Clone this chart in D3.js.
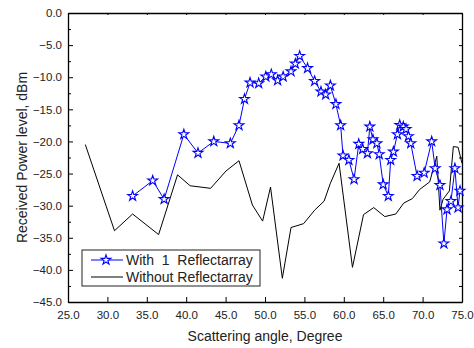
<!DOCTYPE html>
<html lang="en">
<head>
<meta charset="UTF-8">
<title>Received power vs scattering angle</title>
<script src="https://d3js.org/d3.v7.min.js"></script>
<style>
  body { margin: 0; background: white; }
  svg { font-family: "Liberation Sans", Arial, sans-serif; }
  .axis path, .axis line { stroke: black; }
  .axis text { font-size: 11.5px; fill: #222; }
  .title { font-size: 14px; fill: #222; }
</style>
</head>
<body>
<svg></svg>
<script>
const [width, height] = [474, 348]
const margin = {left: 68, right: 12, top: 13, bottom: 46}

// series
const withX = [33.2, 35.75, 37.2, 39.7, 41.5, 43.5, 45.6, 46.7, 47.4, 48.1, 49.2, 50.1, 50.8, 51.6, 52.3, 53.3,
  53.85, 54.4, 55.4, 56.3, 57.1, 57.7, 58.3, 59.0, 59.6, 59.9, 60.65, 61.3, 61.9, 62.4, 63.0, 63.3, 63.7, 64.2,
  64.5, 65.0, 65.65, 65.95, 66.3, 66.8, 67.1, 67.55, 67.9, 68.2, 68.5, 69.3, 70.2, 71.15, 71.6, 72.2, 72.7,
  73.1, 73.6, 74.1, 74.5, 74.75]
const withY = [-28.5, -26.1, -29.0, -18.9, -21.8, -20.0, -20.3, -17.5, -13.4, -10.85, -10.95, -9.9, -9.55, -10.5,
  -9.9, -9.1, -7.9, -6.7, -8.6, -10.6, -12.25, -12.7, -11.3, -14.2, -17.5, -22.2, -22.9, -25.9, -20.4, -21.2,
  -21.85, -17.7, -19.7, -20.3, -22.0, -26.7, -28.5, -22.9, -21.6, -18.9, -17.45, -17.7, -18.1, -19.2, -20.3,
  -25.4, -24.9, -20.0, -24.2, -26.8, -35.9, -30.6, -29.3, -24.2, -30.3, -27.7]
const withoutX = [27.2, 30.9, 33.2, 36.5, 38.9, 40.5, 43.1, 45.05, 46.7, 48.4, 49.7, 50.7, 52.2, 53.3, 54.9, 56.3,
  57.5, 58.3, 59.4, 61.1, 62.5, 63.8, 65.2, 66.6, 67.6, 68.7, 69.6, 70.9, 71.8, 72.2, 72.6, 73.4, 73.9, 74.5, 75.0]
const withoutY = [-20.5, -33.9, -31.3, -34.5, -25.2, -26.9, -27.3, -24.6, -23.0, -29.9, -32.4, -27.1, -41.3, -33.4,
  -32.8, -30.7, -29.3, -26.5, -23.4, -39.6, -31.4, -30.3, -31.7, -31.3, -29.6, -28.9, -27.5, -26.3, -22.3, -30.7,
  -29.0, -27.7, -20.8, -20.9, -23.4]

const xTicks = [25, 30, 35, 40, 45, 50, 55, 60, 65, 70, 75]
const yTicks = [0, -5, -10, -15, -20, -25, -30, -35, -40, -45]
const yMinor = d3.range(-2.5, -45, -5)
const legendNames = ['With  1  Reflectarray', 'Without Reflectarray']

const svg = d3.select('svg').attr('width', width).attr('height', height)
const x = d3.scaleLinear().domain([25, 75]).range([margin.left, width - margin.right])
const y = d3.scaleLinear().domain([-45, 0]).range([height - margin.bottom, margin.top])
const fmt = d3.format('.1f')

// axes, ticks pointing inward
svg.append('g').attr('class', 'axis')
    .attr('transform', `translate(0,${y(-45)})`)
    .call(d3.axisBottom(x).tickValues(xTicks).tickFormat(fmt).tickSize(-5).tickSizeOuter(0).tickPadding(9))
svg.append('g').attr('class', 'axis')
    .attr('transform', `translate(${x(25)},0)`)
    .call(d3.axisLeft(y).tickValues(yTicks).tickFormat(fmt).tickSize(-5).tickSizeOuter(0).tickPadding(6))
svg.append('g').attr('class', 'axis')
    .attr('transform', `translate(${x(25)},0)`)
    .call(d3.axisLeft(y).tickValues(yMinor).tickFormat('').tickSize(-3).tickSizeOuter(0))
    .select('.domain').remove()
// mirrored frame
svg.append('g').attr('class', 'axis')
    .attr('transform', `translate(${x(75)},0)`)
    .call(d3.axisRight(y).tickValues(yTicks.concat(yMinor)).tickFormat('').tickSize(-3).tickSizeOuter(0))
svg.append('g').attr('class', 'axis')
    .attr('transform', `translate(0,${y(0)})`)
    .call(d3.axisTop(x).tickValues(xTicks).tickFormat('').tickSize(-2).tickSizeOuter(0))
svg.selectAll('.axis .domain').attr('stroke-width', 1.3)

const line = d3.line().x(d => x(d[0])).y(d => y(d[1]))
const without = withoutX.map((v, i) => [v, withoutY[i]])
const withRA = withX.map((v, i) => [v, withY[i]])

svg.append('path').datum(without).attr('d', line)
    .attr('fill', 'none').attr('stroke', 'black').attr('stroke-width', 1)
svg.append('path').datum(withRA).attr('d', line)
    .attr('fill', 'none').attr('stroke', 'blue').attr('stroke-width', 1)

const star = d3.symbol().type(d3.symbolStar).size(30)
svg.selectAll('.star').data(withRA).join('path').attr('class', 'star')
    .attr('d', star)
    .attr('transform', d => `translate(${x(d[0])},${y(d[1])})`)
    .attr('fill', 'white').attr('stroke', 'blue').attr('stroke-width', 1.1)

// legend
const lg = svg.append('g').attr('transform', 'translate(82,250)')
lg.append('rect').attr('width', 178).attr('height', 36)
    .attr('fill', 'white').attr('stroke', '#222').attr('stroke-width', 1)
lg.append('line').attr('x1', 9).attr('x2', 41).attr('y1', 10).attr('y2', 10).attr('stroke', 'blue')
lg.append('path').attr('d', star).attr('transform', 'translate(24,10)')
    .attr('fill', 'white').attr('stroke', 'blue').attr('stroke-width', 1.1)
lg.append('line').attr('x1', 9).attr('x2', 41).attr('y1', 27).attr('y2', 27).attr('stroke', 'black')
lg.selectAll('text').data(legendNames).join('text')
    .attr('class', 'title').attr('x', 44).attr('y', (d, i) => 15 + i * 17)
    .style('white-space', 'pre').text(d => d)

// axis titles
svg.append('text').attr('class', 'title').attr('text-anchor', 'middle')
    .attr('x', (x(25) + x(75)) / 2).attr('y', 341).text('Scattering angle, Degree')
svg.append('text').attr('class', 'title').attr('text-anchor', 'middle')
    .attr('transform', `translate(27,${(y(0) + y(-45)) / 2})rotate(-90)`)
    .text('Received Power level, dBm')
</script>
</body>
</html>
